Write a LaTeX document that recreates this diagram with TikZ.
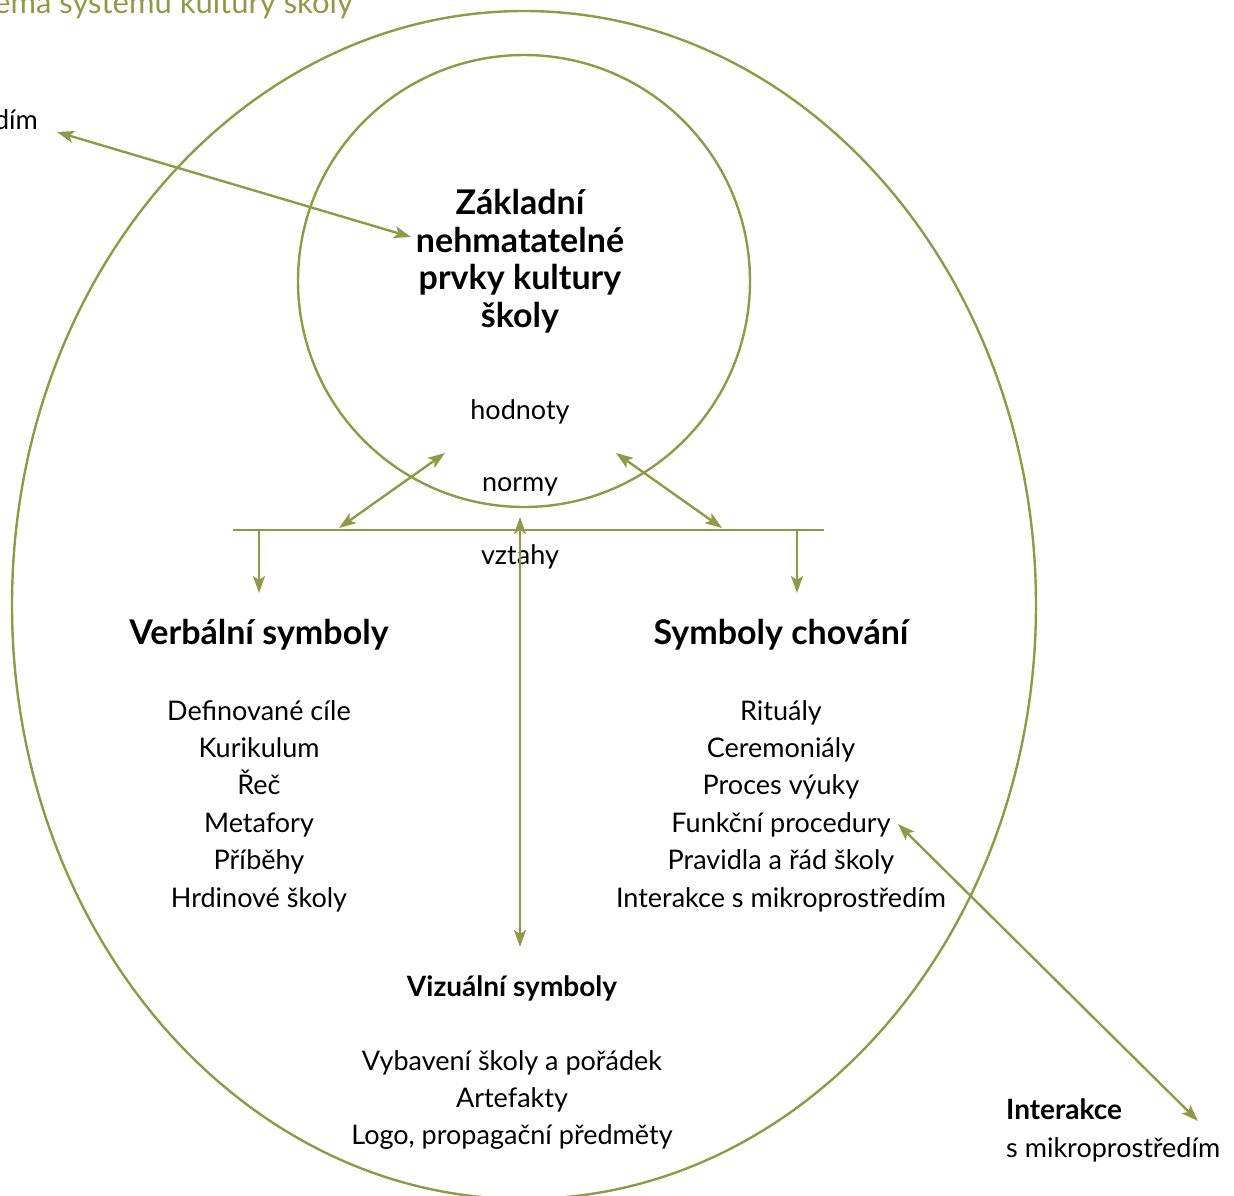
\documentclass[tikz,border=0pt]{standalone}
\usepackage{fontspec}
\setmainfont{Lato}
\usetikzlibrary{arrows.meta}
\definecolor{olive}{HTML}{8F9A45}
\tikzset{
  conn/.style={draw=olive, line width=2.4pt},
  tip/.style={-{Stealth[length=17pt,width=12pt,inset=4pt]}},
  dtip/.style={{Stealth[length=17pt,width=12pt,inset=4pt]}-{Stealth[length=17pt,width=12pt,inset=4pt]}},
  body/.style={font=\fontsize{27}{37.4}\selectfont, align=center, inner sep=0pt},
  head/.style={font=\fontsize{34}{37}\selectfont\bfseries, inner sep=0pt},
}
\begin{document}
\begin{tikzpicture}[x=1pt,y=-1pt]
\useasboundingbox (0,0) rectangle (1234,1195);
% shapes
\draw[conn] (524,605) ellipse [x radius=512, y radius=594];
\draw[conn] (524,281) circle [radius=226];
% title & partial label
\node[anchor=base east, inner sep=0pt, text=olive, font=\fontsize{31}{34}\selectfont] (title) at (353,13) {Schéma systému kultury školy};
\node[anchor=base east, inner sep=0pt, font=\fontsize{27}{30}\selectfont] (makro) at (38,129) {s makroprostředím};
% core text
\node[font=\fontsize{34}{37.5}\selectfont\bfseries, align=center, inner sep=0pt] (core) at (520,261) {Základní\\nehmatatelné\\prvky kultury\\školy};
\node[body] (hod) at (520,412) {hodnoty};
\node[body] (norm) at (520,487) {normy};
\node[body] (vzt) at (520,557) {vztahy};
% bar
\coordinate (barL) at (233,530);
\coordinate (barR) at (824,530);
\draw[conn] (barL) -- (barR);
\coordinate (dl0) at (259,530); \coordinate (dl1) at (259,593);
\coordinate (dr0) at (797,530); \coordinate (dr1) at (797,593);
\draw[conn,tip] (dl0) -- (dl1);
\draw[conn,tip] (dr0) -- (dr1);
\coordinate (al0) at (339,528); \coordinate (al1) at (445,453);
\coordinate (ar0) at (722,528); \coordinate (ar1) at (616,453);
\draw[conn,dtip] (al0) -- (al1);
\draw[conn,dtip] (ar0) -- (ar1);
\coordinate (v0) at (520,517); \coordinate (v1) at (520,947);
\draw[conn,dtip] (v0) -- (v1);
% headings
\node[head] (verb) at (259,635) {Verbální symboly};
\node[head] (chov) at (781,635) {Symboly chování};
\node[font=\fontsize{28}{30}\selectfont\bfseries, inner sep=0pt] (viz) at (512,988) {Vizuální symboly};
% lists
\node[body, anchor=north] (listL) at (259,700) {Definované cíle\\Kurikulum\\Řeč\\Metafory\\Příběhy\\Hrdinové školy};
\node[body, anchor=north] (listR) at (781,700) {Rituály\\Ceremoniály\\Proces výuky\\Funkční procedury\\Pravidla a řád školy\\Interakce s mikroprostředím};
\node[body, anchor=north] (listV) at (512,1050) {Vybavení školy a pořádek\\Artefakty\\Logo, propagační předměty};
% interaction label
\node[anchor=base west, inner sep=0pt, font=\fontsize{28}{30}\selectfont\bfseries] (inter) at (1006,1119) {Interakce};
\node[anchor=base west, inner sep=0pt, font=\fontsize{27}{30}\selectfont] (mikro) at (1006,1157) {s mikroprostředím};
% long arrows
\coordinate (t0) at (57,132); \coordinate (t1) at (411,237);
\draw[conn,dtip] (t0) -- (t1);
\coordinate (r0) at (898,824); \coordinate (r1) at (1198,1121);
\draw[conn,dtip] (r0) -- (r1);
\end{tikzpicture}
\end{document}
